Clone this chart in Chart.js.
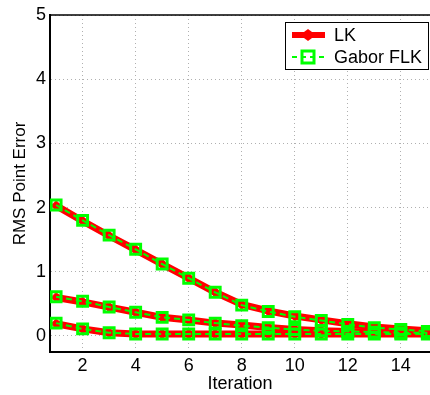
<!DOCTYPE html>
<html>
<head>
<meta charset="utf-8">
<script src="https://cdn.jsdelivr.net/npm/chart.js@4"></script>
<style>
  html, body { margin: 0; padding: 0; background: #fff; }
  #wrap { width: 430px; height: 395px; }
</style>
</head>
<body>
<div id="wrap"><canvas id="chart" width="430" height="395"></canvas></div>
<script>
// --- data ---
const iterations = [1, 2, 3, 4, 5, 6, 7, 8, 9, 10, 11, 12, 13, 14, 15];
const xTicks = [2, 4, 6, 8, 10, 12, 14];
const yTicks = [0, 1, 2, 3, 4, 5];

// three runs, each with LK and Gabor FLK
const lkHigh    = [2.03, 1.79, 1.56, 1.34, 1.12, 0.90, 0.68, 0.49, 0.39, 0.31, 0.25, 0.19, 0.14, 0.11, 0.08];
const gaborHigh = [2.04, 1.80, 1.57, 1.35, 1.12, 0.90, 0.68, 0.48, 0.38, 0.30, 0.24, 0.18, 0.13, 0.10, 0.07];
const lkMid     = [0.60, 0.53, 0.45, 0.37, 0.29, 0.25, 0.20, 0.17, 0.13, 0.10, 0.08, 0.07, 0.06, 0.05, 0.05];
const gaborMid  = [0.61, 0.54, 0.45, 0.37, 0.29, 0.25, 0.20, 0.16, 0.13, 0.10, 0.08, 0.07, 0.06, 0.05, 0.05];
const lkLow     = [0.19, 0.11, 0.05, 0.03, 0.03, 0.03, 0.03, 0.03, 0.03, 0.03, 0.03, 0.03, 0.03, 0.03, 0.03];
const gaborLow  = [0.20, 0.11, 0.05, 0.03, 0.03, 0.03, 0.03, 0.03, 0.03, 0.03, 0.03, 0.03, 0.03, 0.03, 0.03];

const RED = '#ff0000';
const GREEN = '#00ff00';
const FONT = '"Liberation Sans", Arial, sans-serif';

function pts(values) {
    return values.map((v, i) => ({ x: iterations[i], y: v }));
}

function lkSet(values) {
    return {
        label: 'LK', data: pts(values), order: 2,
        borderColor: RED, backgroundColor: RED, borderWidth: 7,
        pointStyle: 'rectRot', pointRadius: 5, pointBorderWidth: 1,
        pointBorderColor: RED, pointBackgroundColor: RED, tension: 0
    };
}

function gaborSet(values) {
    return {
        label: 'Gabor FLK', data: pts(values), order: 1,
        borderColor: GREEN, borderWidth: 2, borderDash: [6, 4],
        pointStyle: 'rect', pointRadius: 7, pointBorderWidth: 3,
        pointBorderColor: GREEN, pointBackgroundColor: 'rgba(0,0,0,0)', tension: 0
    };
}

// top border + boxed legend like the MATLAB figure
const frameAndLegend = {
    id: 'frameAndLegend',
    afterDraw(chart) {
        const ctx = chart.ctx;
        const a = chart.chartArea;
        ctx.save();
        ctx.strokeStyle = '#000';
        ctx.lineWidth = 1.5;
        ctx.beginPath();
        ctx.moveTo(a.left, a.top);
        ctx.lineTo(a.right, a.top);
        ctx.stroke();

        // legend box
        const bx = 285, by = 22, bw = 143, bh = 47;
        ctx.fillStyle = '#fff';
        ctx.fillRect(bx, by, bw, bh);
        ctx.lineWidth = 1;
        ctx.strokeRect(bx + 0.5, by + 0.5, bw, bh);

        // LK entry
        const y1 = 35, y2 = 57, lx0 = 292, lx1 = 325, mx = 308;
        ctx.strokeStyle = RED;
        ctx.lineWidth = 6;
        ctx.beginPath();
        ctx.moveTo(lx0, y1); ctx.lineTo(lx1, y1); ctx.stroke();
        ctx.fillStyle = RED;
        ctx.beginPath();
        ctx.moveTo(mx - 8, y1); ctx.lineTo(mx, y1 - 6); ctx.lineTo(mx + 8, y1); ctx.lineTo(mx, y1 + 6);
        ctx.closePath(); ctx.fill();

        // Gabor entry
        ctx.strokeStyle = GREEN;
        ctx.lineWidth = 2;
        ctx.setLineDash([5, 4]);
        ctx.beginPath();
        ctx.moveTo(lx0, y2); ctx.lineTo(lx1, y2); ctx.stroke();
        ctx.setLineDash([]);
        ctx.lineWidth = 3;
        ctx.strokeRect(mx - 6, y2 - 6, 12, 12);

        ctx.fillStyle = '#000';
        ctx.font = '18px ' + FONT;
        ctx.textBaseline = 'middle';
        ctx.textAlign = 'left';
        ctx.fillText('LK', 334, y1 + 1);
        ctx.fillText('Gabor FLK', 334, y2 + 1);
        ctx.restore();
    }
};

new Chart(document.getElementById('chart'), {
    type: 'line',
    data: {
        datasets: [
            lkSet(lkHigh), lkSet(lkMid), lkSet(lkLow),
            gaborSet(gaborHigh), gaborSet(gaborMid), gaborSet(gaborLow)
        ]
    },
    options: {
        responsive: false,
        animation: false,
        layout: { autoPadding: false, padding: { top: 15, right: 0, left: 0, bottom: 0 } },
        plugins: { legend: { display: false }, tooltip: { enabled: false } },
        scales: {
            x: {
                type: 'linear', min: 0.77, max: 15.1,
                afterBuildTicks: s => { s.ticks = xTicks.map(v => ({ value: v })); },
                afterFit: s => { s.height = 43; },
                grid: { color: '#b0b0b0', lineWidth: 1, drawTicks: false },
                border: { color: '#000', width: 2, dash: [1, 3] },
                ticks: { color: '#000', padding: 3, font: { family: FONT, size: 18 }, maxRotation: 0 },
                title: { display: true, text: 'Iteration', color: '#000', padding: { top: 0, bottom: 0 },
                         font: { family: FONT, size: 18 } }
            },
            y: {
                min: -0.25, max: 5,
                afterBuildTicks: s => { s.ticks = yTicks.map(v => ({ value: v })); },
                afterFit: s => { s.width = 50; },
                grid: { color: '#b0b0b0', lineWidth: 1, drawTicks: false },
                border: { color: '#000', width: 2, dash: [1, 3] },
                ticks: { color: '#000', padding: 4, font: { family: FONT, size: 18 } },
                title: { display: true, text: 'RMS Point Error', color: '#000', padding: { top: 10, bottom: 0 },
                         font: { family: FONT, size: 17 } }
            }
        }
    },
    plugins: [frameAndLegend]
});
</script>
</body>
</html>
